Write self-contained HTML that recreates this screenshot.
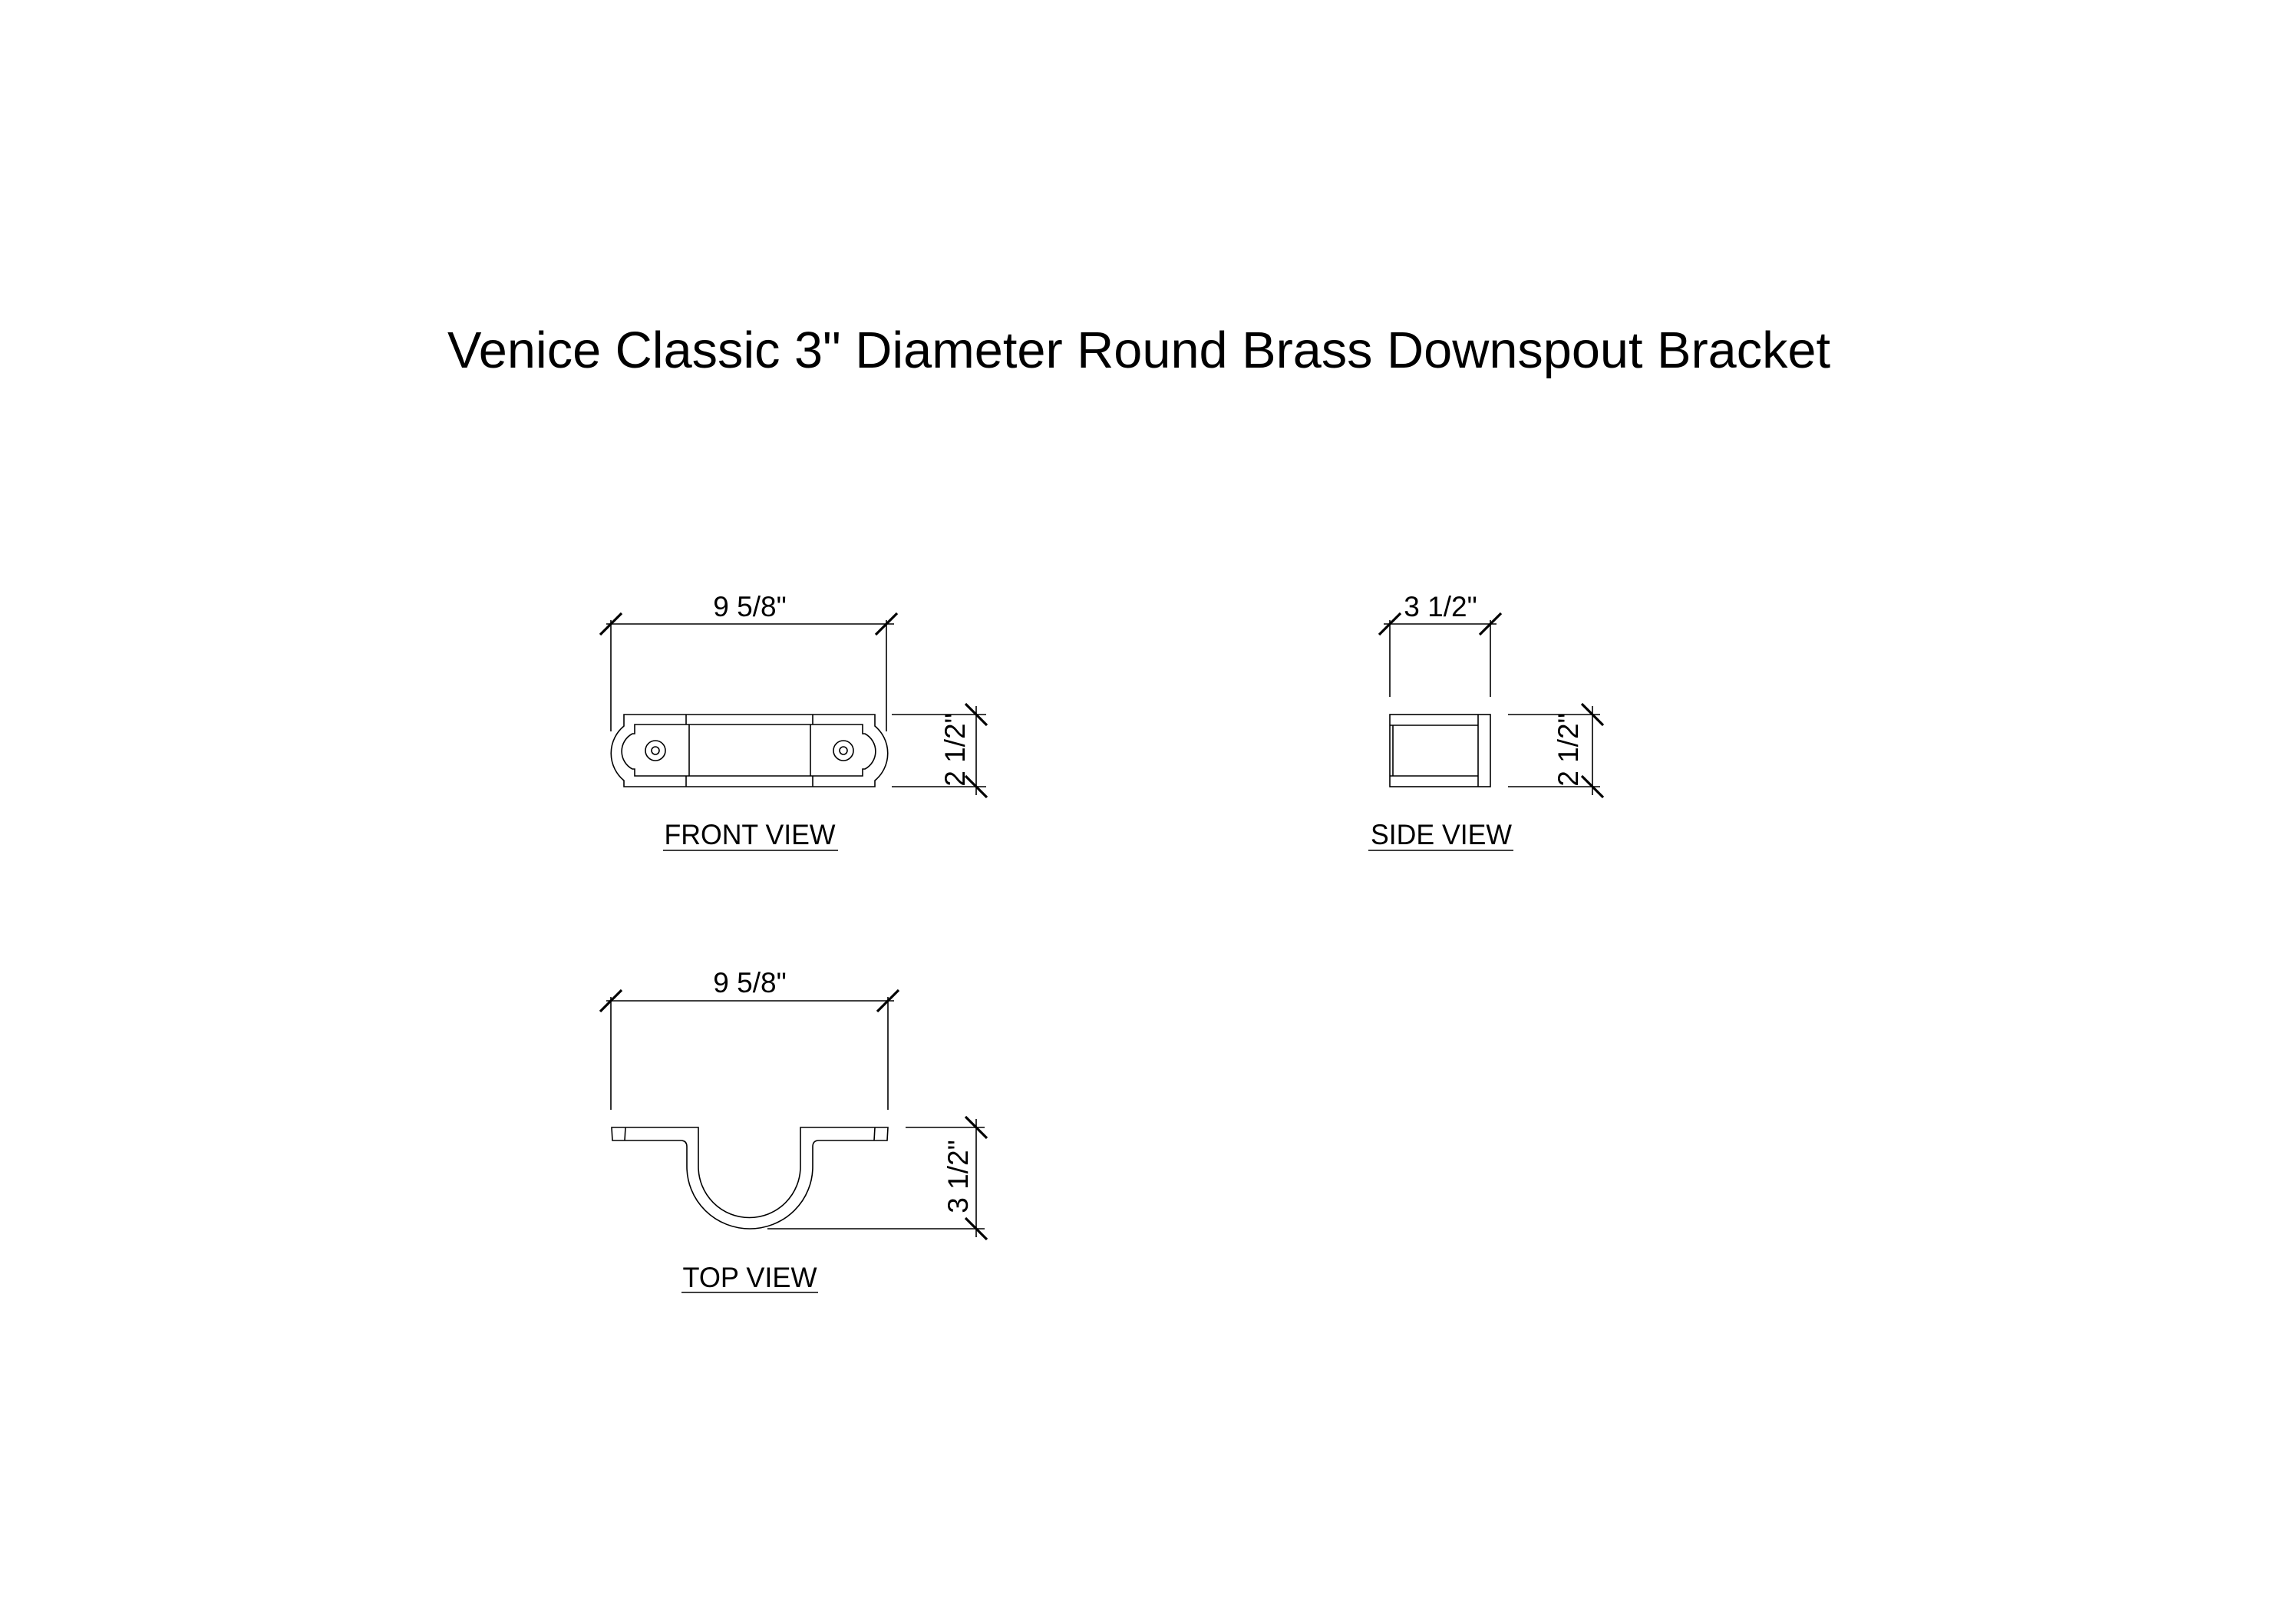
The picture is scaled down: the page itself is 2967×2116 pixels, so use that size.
<!DOCTYPE html>
<html><head><meta charset="utf-8"><style>html,body{margin:0;padding:0;background:#fff}svg{display:block}</style></head>
<body>
<svg width="2967" height="2116" viewBox="0 0 2967 2116" xmlns="http://www.w3.org/2000/svg" font-family="Liberation Sans, Arial, sans-serif">
<rect width="2967" height="2116" fill="#fff"/>
<text x="583" y="479" font-size="67" textLength="1802" lengthAdjust="spacingAndGlyphs">Venice Classic 3" Diameter Round Brass Downspout Bracket</text>

<g fill="none" stroke="#000" stroke-width="1.6">
<!-- FRONT VIEW -->
<line x1="790" y1="813" x2="1165" y2="813"/>
<line x1="796" y1="808" x2="796" y2="953"/>
<line x1="1155" y1="808" x2="1155" y2="953"/>
<path d="M813,946 L813,931 L1140,931 L1140,946 A46,46 0 0 1 1140,1017 L1140,1025 L813,1025 L813,1017 A46,46 0 0 1 813,946 Z"/>
<path d="M827,956 L827,944 L1124,944 L1124,956 L1127,956 A26,26 0 0 1 1127,1002 L1124,1002 L1124,1011 L827,1011 L827,1002 L824,1002 A26,26 0 0 1 824,956 Z"/>
<line x1="894" y1="931" x2="894" y2="944"/><line x1="894" y1="1011" x2="894" y2="1025"/>
<line x1="898" y1="944" x2="898" y2="1011"/>
<line x1="1059" y1="931" x2="1059" y2="944"/><line x1="1059" y1="1011" x2="1059" y2="1025"/>
<line x1="1056" y1="944" x2="1056" y2="1011"/>
<circle cx="854" cy="978" r="13"/><circle cx="854" cy="978" r="5"/>
<circle cx="1099" cy="978" r="13"/><circle cx="1099" cy="978" r="5"/>
<line x1="1162" y1="931" x2="1285" y2="931"/>
<line x1="1162" y1="1025" x2="1285" y2="1025"/>
<line x1="1272" y1="920" x2="1272" y2="1036"/>
<line x1="864" y1="1108" x2="1092" y2="1108"/>

<!-- SIDE VIEW -->
<line x1="1803" y1="813" x2="1950" y2="813"/>
<line x1="1811" y1="808" x2="1811" y2="908"/>
<line x1="1942" y1="808" x2="1942" y2="908"/>
<rect x="1811" y="931" width="131" height="94"/>
<line x1="1811" y1="945" x2="1926" y2="945"/>
<line x1="1811" y1="1011" x2="1926" y2="1011"/>
<line x1="1815" y1="945" x2="1815" y2="1011"/>
<line x1="1926" y1="931" x2="1926" y2="1025"/>
<line x1="1965" y1="931" x2="2085" y2="931"/>
<line x1="1965" y1="1025" x2="2085" y2="1025"/>
<line x1="2075" y1="920" x2="2075" y2="1036"/>
<line x1="1783" y1="1108" x2="1972" y2="1108"/>

<!-- TOP VIEW -->
<line x1="790" y1="1304" x2="1165" y2="1304"/>
<line x1="796" y1="1299" x2="796" y2="1446"/>
<line x1="1157" y1="1299" x2="1157" y2="1446"/>
<path d="M797,1469 L910,1469 L910,1520 A66,66 0 0 0 1043,1520 L1043,1469 L1157,1469 L1156,1486 L1067,1486 Q1059,1486 1059,1494 L1059,1520 A82,81 0 0 1 895,1520 L895,1494 Q895,1486 887,1486 L798,1486 Z"/>
<line x1="815" y1="1469" x2="814" y2="1486"/>
<line x1="1140" y1="1469" x2="1139" y2="1486"/>
<line x1="1180" y1="1469" x2="1283" y2="1469"/>
<line x1="1000" y1="1601" x2="1283" y2="1601"/>
<line x1="1272" y1="1458" x2="1272" y2="1612"/>
<line x1="888" y1="1684" x2="1066" y2="1684"/>
</g>

<g stroke="#000" stroke-width="3.2">
<line x1="782" y1="827" x2="810" y2="799"/><line x1="1141" y1="827" x2="1169" y2="799"/>
<line x1="1258" y1="917" x2="1286" y2="945"/><line x1="1258" y1="1011" x2="1286" y2="1039"/>
<line x1="1797" y1="827" x2="1825" y2="799"/><line x1="1928" y1="827" x2="1956" y2="799"/>
<line x1="2061" y1="917" x2="2089" y2="945"/><line x1="2061" y1="1011" x2="2089" y2="1039"/>
<line x1="782" y1="1318" x2="810" y2="1290"/><line x1="1143" y1="1318" x2="1171" y2="1290"/>
<line x1="1258" y1="1455" x2="1286" y2="1483"/><line x1="1258" y1="1587" x2="1286" y2="1615"/>
</g>

<g font-size="37" fill="#000" text-anchor="middle">
<text x="977" y="803">9 5/8"</text>
<text x="1877" y="803">3 1/2"</text>
<text x="977" y="1293">9 5/8"</text>
<text transform="translate(1257,977) rotate(-90)">2 1/2"</text>
<text transform="translate(2056,977) rotate(-90)">2 1/2"</text>
<text transform="translate(1261,1533) rotate(-90)">3 1/2"</text>
<text x="977" y="1100" textLength="223" lengthAdjust="spacingAndGlyphs">FRONT VIEW</text>
<text x="1878" y="1100" textLength="184" lengthAdjust="spacingAndGlyphs">SIDE VIEW</text>
<text x="977" y="1677" textLength="175" lengthAdjust="spacingAndGlyphs">TOP VIEW</text>
</g>
</svg>
</body></html>
